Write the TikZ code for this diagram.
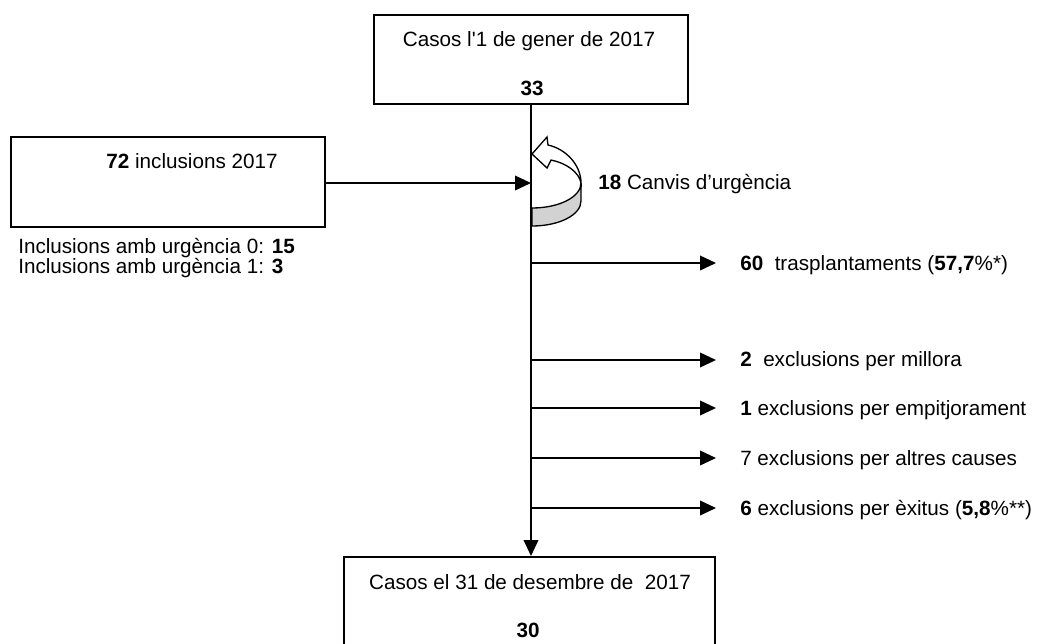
\documentclass[tikz,border=0pt]{standalone}
\usepackage{fontspec}
\setmainfont{Liberation Sans}
\usetikzlibrary{arrows.meta}
\begin{document}
\begin{tikzpicture}[x=0.75pt,y=-0.75pt,
  font=\fontsize{15.5}{18}\selectfont,
  boxn/.style={draw, line width=1.5pt, rectangle, inner sep=0pt},
  lbl/.style={inner sep=0pt},
  link/.style={line width=1.2pt},
  arr/.style={line width=1.2pt, -{Triangle[length=12pt,width=11pt]}}]
\clip (0,0) rectangle (1041,643);
% boxes
\node[boxn, minimum width=314*0.75pt, minimum height=89*0.75pt] (top) at (531,59.5) {};
\node[boxn, minimum width=314*0.75pt, minimum height=90*0.75pt] (left) at (168,182) {};
\node[boxn, minimum width=371*0.75pt, minimum height=100*0.75pt] (bot) at (529.5,607) {};
% texts
\node[lbl, anchor=base] (toptxt) at (529,46) {Casos l\textquotesingle1 de gener de 2017};
\node[lbl, anchor=base] (topnum) at (532,95) {\textbf{33}};
\node[lbl, anchor=base] (lefttxt) at (192,168) {\textbf{72} inclusions 2017};
\node[lbl, anchor=base west] (inc0) at (18,253) {Inclusions amb urgència 0: \textbf{15}};
\node[lbl, anchor=base west] (inc1) at (18,273) {Inclusions amb urgència 1: \textbf{3}};
\node[lbl, anchor=base west] (canvis) at (598,189) {\textbf{18} Canvis d’urgència};
\node[lbl, anchor=base] (bottxt) at (530,589) {Casos el 31 de desembre de\ \ 2017};
\node[lbl, anchor=base] (botnum) at (528,637) {\textbf{30}};
% main vertical flow
\draw[arr] (top.south) -- (top.south |- bot.north);
% incoming arrow
\coordinate (inend) at (531,183);
\draw[arr] (left.east |- inend) -- (inend);
% circular arrow
\filldraw[fill=gray!35, line width=1pt]
  (532,208) .. controls (559.5,208) and (581,196.8) .. (581,183)
  -- (581,201) .. controls (581,214.8) and (559.5,226) .. (532,226) -- cycle;
\filldraw[fill=white, line width=1pt, line join=miter]
  (581,183) .. controls (581,165) and (566,149) .. (548,145)
  -- (547,137) -- (532,154) -- (547,168) -- (551,160)
  .. controls (566,163) and (579,172) .. (581,183) -- cycle;
% outgoing arrows
\foreach \yy/\nm in {263/o1,360/o2,408/o3,458/o4,508/o5}{
  \coordinate (\nm s) at (531,\yy);
  \coordinate (\nm e) at (716,\yy);
  \draw[arr] (\nm s) -- (\nm e);
}
\node[lbl, anchor=base west] (t1) at (740,270) {\textbf{60}\ \ trasplantaments (\textbf{57,7}\%*)};
\node[lbl, anchor=base west] (t2) at (740,366) {\textbf{2}\ \ exclusions per millora};
\node[lbl, anchor=base west] (t3) at (740,415) {\textbf{1} exclusions per empitjorament};
\node[lbl, anchor=base west] (t4) at (740,465) {7 exclusions per altres causes};
\node[lbl, anchor=base west] (t5) at (740,515) {\textbf{6} exclusions per èxitus (\textbf{5,8}\%**)};
\end{tikzpicture}
\end{document}
